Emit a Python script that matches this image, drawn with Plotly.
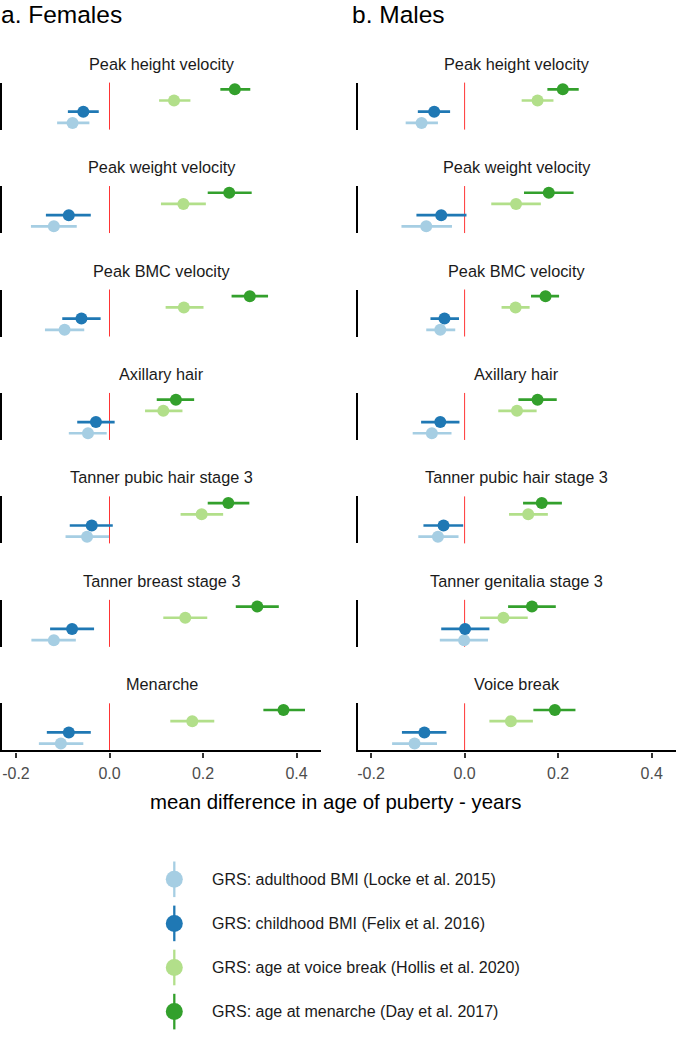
import plotly.graph_objects as go

# ---------------- data ----------------
females_outcomes = ["Peak height velocity", "Peak weight velocity", "Peak BMC velocity",
                    "Axillary hair", "Tanner pubic hair stage 3", "Tanner breast stage 3", "Menarche"]
males_outcomes = ["Peak height velocity", "Peak weight velocity", "Peak BMC velocity",
                  "Axillary hair", "Tanner pubic hair stage 3", "Tanner genitalia stage 3", "Voice break"]

grs_labels = ["GRS: adulthood BMI (Locke et al. 2015)",
              "GRS: childhood BMI (Felix et al. 2016)",
              "GRS: age at voice break (Hollis et al. 2020)",
              "GRS: age at menarche (Day et al. 2017)"]
grs_colors = ["#A6CEE3", "#1F78B4", "#B2DF8A", "#33A02C"]

panel_titles = ["a. Females", "b. Males"]
x_title = "mean difference in age of puberty - years"
tick_vals = [-0.2, 0.0, 0.2, 0.4]
tick_text = ["-0.2", "0.0", "0.2", "0.4"]

# Females
f_adult_bmi_est = [-0.079, -0.119, -0.096, -0.046, -0.048, -0.119, -0.104]
f_adult_bmi_lo = [-0.112, -0.168, -0.138, -0.087, -0.094, -0.167, -0.151]
f_adult_bmi_hi = [-0.043, -0.070, -0.054, -0.006, -0.001, -0.072, -0.056]

f_child_bmi_est = [-0.056, -0.087, -0.060, -0.029, -0.038, -0.080, -0.087]
f_child_bmi_lo = [-0.089, -0.136, -0.101, -0.069, -0.085, -0.127, -0.134]
f_child_bmi_hi = [-0.023, -0.040, -0.019, 0.011, 0.007, -0.033, -0.040]

f_voice_est = [0.138, 0.158, 0.159, 0.115, 0.197, 0.162, 0.177]
f_voice_lo = [0.106, 0.110, 0.120, 0.076, 0.152, 0.115, 0.130]
f_voice_hi = [0.173, 0.206, 0.201, 0.156, 0.243, 0.209, 0.224]

f_menarche_est = [0.268, 0.256, 0.300, 0.142, 0.254, 0.316, 0.372]
f_menarche_lo = [0.237, 0.210, 0.261, 0.101, 0.210, 0.270, 0.329]
f_menarche_hi = [0.301, 0.304, 0.339, 0.181, 0.299, 0.362, 0.418]

# Males
m_adult_bmi_est = [-0.092, -0.082, -0.052, -0.070, -0.057, -0.001, -0.107]
m_adult_bmi_lo = [-0.126, -0.135, -0.082, -0.111, -0.099, -0.053, -0.155]
m_adult_bmi_hi = [-0.057, -0.027, -0.020, -0.028, -0.013, 0.050, -0.059]

m_child_bmi_est = [-0.065, -0.050, -0.043, -0.052, -0.045, 0.001, -0.086]
m_child_bmi_lo = [-0.100, -0.103, -0.073, -0.093, -0.088, -0.050, -0.134]
m_child_bmi_hi = [-0.031, 0.004, -0.012, -0.011, -0.003, 0.053, -0.039]

m_voice_est = [0.156, 0.110, 0.109, 0.112, 0.136, 0.083, 0.099]
m_voice_lo = [0.122, 0.057, 0.079, 0.072, 0.095, 0.033, 0.053]
m_voice_hi = [0.190, 0.163, 0.139, 0.154, 0.178, 0.135, 0.146]

m_menarche_est = [0.210, 0.180, 0.173, 0.156, 0.165, 0.144, 0.193]
m_menarche_lo = [0.177, 0.127, 0.142, 0.115, 0.125, 0.093, 0.147]
m_menarche_hi = [0.244, 0.233, 0.202, 0.197, 0.208, 0.195, 0.237]

sexes = [
    (females_outcomes, [(f_adult_bmi_est, f_adult_bmi_lo, f_adult_bmi_hi),
                        (f_child_bmi_est, f_child_bmi_lo, f_child_bmi_hi),
                        (f_voice_est, f_voice_lo, f_voice_hi),
                        (f_menarche_est, f_menarche_lo, f_menarche_hi)]),
    (males_outcomes, [(m_adult_bmi_est, m_adult_bmi_lo, m_adult_bmi_hi),
                      (m_child_bmi_est, m_child_bmi_lo, m_child_bmi_hi),
                      (m_voice_est, m_voice_lo, m_voice_hi),
                      (m_menarche_est, m_menarche_lo, m_menarche_hi)]),
]

# ---------------- layout geometry ----------------
W, H = 676, 1048
FONT = "Liberation Sans, Arial, Helvetica, sans-serif"
row_top0, row_step, row_h = 82.6, 103.45, 47.0
col_x = [(2.4, 320.9), (357.5, 676.0)]
x_range = [-0.229, 0.452]

fig = go.Figure()
layout = dict(
    width=W, height=H, margin=dict(l=0, r=0, t=0, b=0),
    paper_bgcolor="white", plot_bgcolor="white", showlegend=False,
    font=dict(family=FONT, color="#1A1A1A"),
)
annotations = []
shapes = []

for c, (outcomes, series) in enumerate(sexes):
    for r, outcome in enumerate(outcomes):
        k = c * 7 + r + 1
        top = row_top0 + r * row_step
        ydom = [1 - (top + row_h) / H, 1 - top / H]
        xdom = [col_x[c][0] / W, col_x[c][1] / W]
        xa = "x" if k == 1 else f"x{k}"
        ya = "y" if k == 1 else f"y{k}"
        bottom = (r == 6)
        layout["xaxis" if k == 1 else f"xaxis{k}"] = dict(
            domain=xdom, anchor=ya, range=x_range, showgrid=False, zeroline=False,
            showline=bottom, linecolor="black", linewidth=2.4,
            ticks="outside" if bottom else "", ticklen=5.5, tickwidth=2, tickcolor="#333333",
            tickvals=tick_vals, ticktext=tick_text, showticklabels=bottom,
            tickfont=dict(family=FONT, size=16, color="#4D4D4D"),
            ticklabelstandoff=2, fixedrange=True,
        )
        layout["yaxis" if k == 1 else f"yaxis{k}"] = dict(
            domain=ydom, anchor=xa, type="category", categoryarray=grs_labels,
            categoryorder="array", range=[-0.6, 3.6], showgrid=False, zeroline=False,
            showline=True, linecolor="black", linewidth=2.4, ticks="",
            showticklabels=False, fixedrange=True,
        )
        shapes.append(dict(type="line", xref=xa, yref=f"{ya} domain", x0=0, x1=0, y0=0, y1=1,
                           line=dict(color="#FF0000", width=0.8), layer="below"))
        annotations.append(dict(text=outcome, xref="paper", yref="paper",
                                x=(xdom[0] + xdom[1]) / 2, y=1 - (top - 19) / H,
                                xanchor="center", yanchor="middle", showarrow=False,
                                font=dict(family=FONT, size=16.3, color="#1A1A1A")))
        for g, (est, lo, hi) in enumerate(series):
            fig.add_trace(go.Scatter(
                x=[est[r]], y=[grs_labels[g]], xaxis=xa, yaxis=ya, mode="markers",
                marker=dict(color=grs_colors[g], size=12),
                error_x=dict(type="data", symmetric=False, array=[hi[r] - est[r]],
                             arrayminus=[est[r] - lo[r]], width=0, thickness=2.7,
                             color=grs_colors[g]),
                name=grs_labels[g], hoverinfo="x+name",
            ))

# panel titles
annotations.append(dict(text=panel_titles[0], xref="paper", yref="paper", x=0, y=1,
                        xanchor="left", yanchor="top", showarrow=False, borderpad=0,
                        font=dict(family=FONT, size=24.5, color="black")))
annotations.append(dict(text=panel_titles[1], xref="paper", yref="paper", x=351 / W, y=1,
                        xanchor="left", yanchor="top", showarrow=False, borderpad=0,
                        font=dict(family=FONT, size=24.5, color="black")))
# x axis title
annotations.append(dict(text=x_title, xref="paper", yref="paper", x=335 / W, y=1 - 801.7 / H,
                        xanchor="center", yanchor="middle", showarrow=False,
                        font=dict(family=FONT, size=20.4, color="black")))

# ---------------- manual legend (pointrange keys) ----------------
leg_x, leg_y0, leg_dy = 174.3, 879.3, 44.1
layout["xaxis15"] = dict(domain=[0, 1], anchor="y15", range=[0, W], visible=False, fixedrange=True)
layout["yaxis15"] = dict(domain=[0, 1 - 830 / H], anchor="x15", range=[H, 830], visible=False,
                         fixedrange=True)
for g, lab in enumerate(grs_labels):
    yy = leg_y0 + g * leg_dy
    fig.add_trace(go.Scatter(
        x=[leg_x], y=[yy], xaxis="x15", yaxis="y15", mode="markers",
        marker=dict(color=grs_colors[g], size=17),
        error_y=dict(type="constant", value=17.8, width=0, thickness=2.3, color=grs_colors[g]),
        name=lab, hoverinfo="name",
    ))
    annotations.append(dict(text=lab, xref="x15", yref="y15", x=209.5, y=yy,
                            xanchor="left", yanchor="middle", showarrow=False,
                            font=dict(family=FONT, size=16, color="#1A1A1A")))

layout["annotations"] = annotations
layout["shapes"] = shapes
fig.update_layout(**layout)
fig.write_html("out.html", config={"displayModeBar": False},
               post_script="document.body.style.margin='0px';")
